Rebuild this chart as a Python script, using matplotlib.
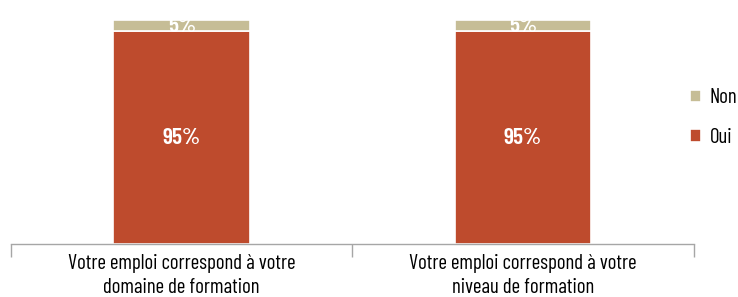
import matplotlib.pyplot as plt
import numpy as np

plt.rcParams["font.family"] = ["Barlow Condensed", "DejaVu Sans"]

# Data
categories = ["Votre emploi correspond à votre\ndomaine de formation",
              "Votre emploi correspond à votre\nniveau de formation"]
oui = [95, 95]
non = [5, 5]

col_oui = "#BE4B2D"
col_non = "#C6BD96"

fig = plt.figure(figsize=(7.38, 2.97), dpi=100)
ax = fig.add_axes([0.015, 0.178, 0.925, 0.755])

x = np.arange(len(categories))
b1 = ax.bar(x, oui, width=0.4, color=col_oui, edgecolor="white", linewidth=1.2, label="Oui")
b2 = ax.bar(x, non, width=0.4, bottom=oui, color=col_non, edgecolor="white", linewidth=1.2, label="Non")

for i in range(len(x)):
    ax.text(x[i], oui[i] / 2, f"{oui[i]}%", ha="center", va="center",
            color="white", fontsize=17, fontweight="semibold")
    ax.text(x[i], oui[i] + non[i] / 2, f"{non[i]}%", ha="center", va="center",
            color="white", fontsize=17, fontweight="semibold")

ax.set_xlim(-0.5, len(x) - 0.5)
ax.set_ylim(0, 100)
ax.set_yticks([])
ax.set_xticks(x)
ax.set_xticklabels(categories, fontsize=15, linespacing=1.35)
ax.tick_params(axis="x", length=0, pad=7)
ax.set_xticks([-0.5, 0.5, 1.5], minor=True)
ax.tick_params(axis="x", which="minor", length=9, color="#A6A6A6", width=1)
for s in ["top", "right", "left"]:
    ax.spines[s].set_visible(False)
ax.spines["bottom"].set_color("#A6A6A6")
ax.spines["bottom"].set_linewidth(1)

handles = [b2, b1]
leg = fig.legend(handles, ["Non", "Oui"], loc="center left", bbox_to_anchor=(0.935, 0.604),
                 frameon=False, fontsize=15, handlelength=0.55, handleheight=0.55,
                 handletextpad=0.4, labelspacing=1.0, borderpad=0, borderaxespad=0)

fig.savefig("out.png", dpi=100)
